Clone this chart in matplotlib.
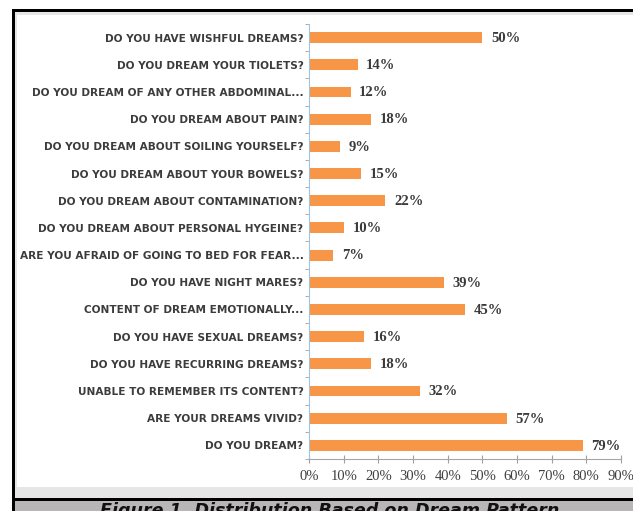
import matplotlib.pyplot as plt
from matplotlib.patches import Rectangle
import numpy as np

# survey questions, top to bottom as shown in the figure
questions = [
    'DO YOU HAVE WISHFUL DREAMS?',
    'DO YOU DREAM YOUR TIOLETS?',
    'DO YOU DREAM OF ANY OTHER ABDOMINAL...',
    'DO YOU DREAM ABOUT PAIN?',
    'DO YOU DREAM ABOUT SOILING YOURSELF?',
    'DO YOU DREAM ABOUT YOUR BOWELS?',
    'DO YOU DREAM ABOUT CONTAMINATION?',
    'DO YOU DREAM ABOUT PERSONAL HYGEINE?',
    'ARE YOU AFRAID OF GOING TO BED FOR FEAR...',
    'DO YOU HAVE NIGHT MARES?',
    'CONTENT OF DREAM EMOTIONALLY...',
    'DO YOU HAVE SEXUAL DREAMS?',
    'DO YOU HAVE RECURRING DREAMS?',
    'UNABLE TO REMEMBER ITS CONTENT?',
    'ARE YOUR DREAMS VIVID?',
    'DO YOU DREAM?',
]
percent = [50, 14, 12, 18, 9, 15, 22, 10, 7, 39, 45, 16, 18, 32, 57, 79]
x_ticks = [0, 10, 20, 30, 40, 50, 60, 70, 80, 90]
caption = 'Figure 1. Distribution Based on Dream Pattern'

W, H = 633, 511
fig = plt.figure(figsize=(W / 100, H / 100), dpi=100)

# frame decorations (pixel coords -> figure fraction)
def px_rect(x0, y0, x1, y1, color):
    fig.patches.append(Rectangle((x0 / W, 1 - y1 / H), (x1 - x0) / W, (y1 - y0) / H,
                                 transform=fig.transFigure, facecolor=color,
                                 edgecolor='none', zorder=-5))

px_rect(12, 9, W, 511, '#e6e6e6')      # light gray strip behind
px_rect(17, 15, W, 487, 'white')       # white chart area
px_rect(12, 9, W, 12, 'black')         # top border
px_rect(12, 9, 15, 511, 'black')       # left border
px_rect(15, 498, W, 501, 'black')      # caption separator
px_rect(15, 501, W, 511, '#b8b6b6')    # caption background

ax = fig.add_axes([309 / W, 1 - 459 / H, (621 - 309) / W, (459 - 24) / H])
ax.set_facecolor('none')
ax.set_zorder(2)

y = np.arange(len(questions))
ax.barh(y, percent, height=0.4, color='#f79646', edgecolor='none')
ax.set_ylim(len(questions) - 0.5, -0.5)
ax.set_xlim(0, 90)

for yi, v in zip(y, percent):
    ax.text(v + 2.5, yi + 0.03, f'{v}%', va='center', ha='left',
            fontsize=10.5, fontweight='bold', family='Liberation Serif', color='#3a3a3a')

ax.set_yticks(y)
ax.set_yticklabels(questions, fontsize=7.6, fontweight='bold', color='#3c3c3c')
ax.set_yticks(np.arange(len(questions) + 1) - 0.5, minor=True)
ax.tick_params(axis='y', which='major', length=0, pad=4)
ax.tick_params(axis='y', which='minor', length=3, color='#a0a0a0')

ax.set_xticks(x_ticks)
ax.set_xticklabels([f'{t}%' for t in x_ticks], fontsize=10.5,
                   family='Liberation Serif', color='#404040')
ax.tick_params(axis='x', direction='inout', length=6, color='#a0a0a0', pad=5)

for side in ['top', 'right']:
    ax.spines[side].set_visible(False)
ax.spines['left'].set_color('#9dc3e6')
ax.spines['bottom'].set_color('#a6a6a6')

fig.text(330 / W, 1 - 502 / H, caption, ha='center', va='top', fontsize=12.6,
         fontweight='bold', style='italic', color='#111111', zorder=3)

fig.savefig('out.png', dpi=100)
